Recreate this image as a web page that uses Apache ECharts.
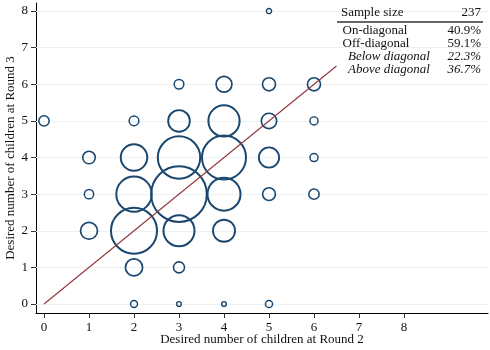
<!DOCTYPE html>
<html>
<head>
<meta charset="utf-8">
<script src="https://cdn.jsdelivr.net/npm/echarts@6/dist/echarts.min.js"></script>
<style>html,body{margin:0;padding:0;background:#fff}#c{width:490px;height:350px}</style>
</head>
<body>
<div id="c"></div>
<script>
// Tick values
var xTicks = [0, 1, 2, 3, 4, 5, 6, 7, 8];
var yTicks = [0, 1, 2, 3, 4, 5, 6, 7, 8];
// Bubble positions (Round 2, Round 3) and weights (estimated)
var round2 = [0, 1, 1, 1, 2, 2, 2, 2, 2, 2, 3, 3, 3, 3, 3, 3, 3, 4, 4, 4, 4, 4, 4, 5, 5, 5, 5, 5, 5, 6, 6, 6, 6];
var round3 = [5, 4, 3, 2, 5, 4, 3, 2, 1, 0, 6, 5, 4, 3, 2, 1, 0, 6, 5, 4, 3, 2, 0, 8, 6, 5, 4, 3, 0, 6, 5, 4, 3];
var weight = [1.7, 2.4, 1.4, 4.2, 1.5, 9.8, 16.9, 27.9, 4.3, 0.85, 1.5, 6.7, 23.8, 40.1, 13.2, 1.9, 0.46, 3.7, 13.3, 25.6, 14.8, 6.9, 0.46, 0.53, 2.6, 3.5, 5.9, 2.5, 0.89, 2.6, 1.1, 1.1, 1.7];
// Diagonal line endpoints
var diagX = [0, 6.5];
var diagY = [0, 6.5];
// Summary table
var tableHeader = ['Sample size', '237'];
var tableLabels = ['On-diagonal', 'Off-diagonal', 'Below diagonal', 'Above diagonal'];
var tableValues = ['40.9%', '59.1%', '22.3%', '36.7%'];
var tableItalic = [false, false, true, true];

var FONT = '"Liberation Serif", "Times New Roman", serif';
var chart = echarts.init(document.getElementById('c'), null, {renderer: 'canvas'});

function bw(w) { return Math.min(2, 1.2 + 0.25 * Math.sqrt(w)); }
var bubbleData = round2.map(function (x, i) {
  return {value: [x, round3[i], weight[i]], itemStyle: {borderWidth: bw(weight[i])}};
});
var diagData = diagX.map(function (x, i) { return [x, diagY[i]]; });

function txt(s, x, y, align, italic) {
  return {type: 'text', z: 10, style: {text: s, x: x, y: y, align: align, verticalAlign: 'middle',
    font: (italic ? 'italic ' : '') + '13px ' + FONT, fill: '#111'}};
}
var graphics = [];
graphics.push(txt(tableHeader[0], 341, 12.5, 'left', false));
graphics.push(txt(tableHeader[1], 481, 12.5, 'right', false));
graphics.push({type: 'line', z: 10, shape: {x1: 337, y1: 22, x2: 483, y2: 22}, style: {stroke: '#333', lineWidth: 1.3}});
var rowY = [31, 43.5, 57, 70];
tableLabels.forEach(function (t, i) {
  graphics.push(txt(t, tableItalic[i] ? 348 : 342.5, rowY[i], 'left', tableItalic[i]));
  graphics.push(txt(tableValues[i], 481, rowY[i], 'right', tableItalic[i]));
});

chart.setOption({
  animation: false,
  backgroundColor: '#fff',
  grid: {left: 36, right: 2, top: 3, bottom: 37, outerBoundsMode: 'none', containLabel: false},
  xAxis: {
    type: 'value', min: -0.178, max: 9.867,
    name: 'Desired number of children at Round 2', nameLocation: 'middle', nameGap: 20, nameMoveOverlap: false,
    nameTextStyle: {fontFamily: FONT, fontSize: 13, color: '#111'},
    axisLine: {show: true, onZero: false, lineStyle: {color: '#000', width: 1}},
    axisTick: {show: true, length: 5, customValues: xTicks, lineStyle: {color: '#333'}},
    axisLabel: {customValues: xTicks, fontFamily: FONT, fontSize: 13, color: '#111', margin: 8},
    splitLine: {show: false}
  },
  yAxis: {
    type: 'value', min: -0.246, max: 8.22,
    name: 'Desired number of children at Round 3', nameLocation: 'middle', nameGap: 19, nameMoveOverlap: false,
    nameTextStyle: {fontFamily: FONT, fontSize: 13, color: '#111'},
    axisLine: {show: true, onZero: false, lineStyle: {color: '#000', width: 1}},
    axisTick: {show: true, length: 5, customValues: yTicks, lineStyle: {color: '#333'}},
    axisLabel: {customValues: yTicks, fontFamily: FONT, fontSize: 13, color: '#111', margin: 8},
    splitLine: {show: false}
  },
  graphic: graphics,
  series: [
    {
      type: 'line', data: [], silent: true, z: 1,
      markLine: {
        silent: true, symbol: 'none', animation: false, z: 1,
        label: {show: false},
        lineStyle: {color: '#eaf2f3', width: 1.2, type: 'solid'},
        emphasis: {disabled: true},
        data: yTicks.map(function (v) { return {yAxis: v}; })
      }
    },
    {
      type: 'scatter', data: bubbleData, z: 3, silent: true,
      symbol: 'circle',
      symbolSize: function (v) { return Math.max(9.1 * Math.sqrt(v[2]) - bw(v[2]), 3); },
      itemStyle: {color: 'rgba(0,0,0,0)', borderColor: '#1a476f', borderWidth: 2, opacity: 1}
    },
    {
      type: 'line', data: diagData, z: 4, silent: true, showSymbol: false, symbol: 'none',
      lineStyle: {color: '#90353b', width: 1.1}
    }
  ]
});
</script>
</body>
</html>
